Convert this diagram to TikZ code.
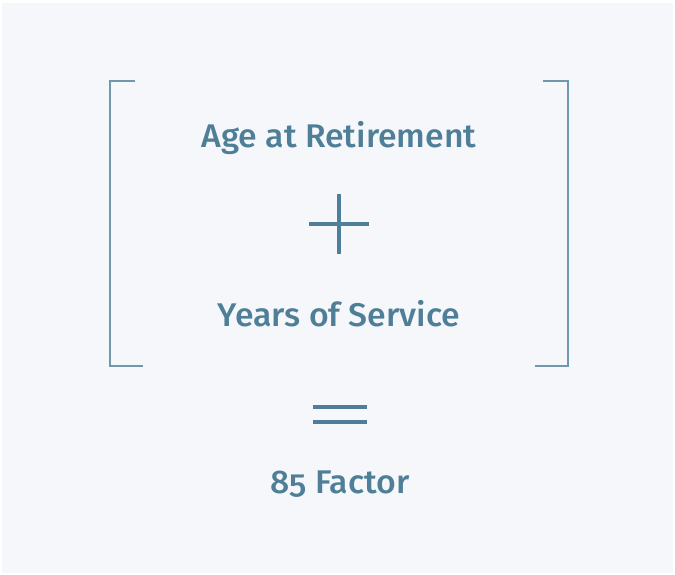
\documentclass[tikz,border=0pt]{standalone}
\usepackage{fontspec}
\setmainfont{Fira Sans}[UprightFont=* Medium,Numbers=OldStyle,FakeStretch=1.03]
\definecolor{txtblue}{HTML}{4F7F98}
\definecolor{lineblue}{HTML}{6F97AE}
\definecolor{bgpanel}{HTML}{F5F7FA}
\begin{document}
\begin{tikzpicture}[x=0.75pt,y=-0.75pt,
  label/.style={text=txtblue,font=\fontsize{24.6}{29}\selectfont,inner sep=0pt,anchor=base},
  bracket/.style={draw=lineblue,line width=1pt},
  sym/.style={draw=txtblue,line width=3.3pt}]
\useasboundingbox (0,0) rectangle (675,575);
\fill[white] (0,0) rectangle (675,575);
\fill[bgpanel] (2,3) rectangle (673,573);
% brackets
\draw[bracket] (135,81) -- (110,81) -- (110,366) -- (143,366);
\draw[bracket] (543,81) -- (568,81) -- (568,366) -- (535,366);
% texts
\node[label] (age) at (339,147) {Age at Retirement};
\node[label] (yrs) at (339,326) {Years of Service};
\node[label] (fac) at (340,493) {85 Factor};
% plus
\coordinate (pt) at (339,194); \coordinate (pb) at (339,254);
\coordinate (pl) at (309,224); \coordinate (pr) at (369,224);
\draw[sym] (pt) -- (pb);
\draw[sym] (pl) -- (pr);
% equals
\coordinate (e1l) at (313,407); \coordinate (e1r) at (367,407);
\coordinate (e2l) at (313,422); \coordinate (e2r) at (367,422);
\draw[sym] (e1l) -- (e1r);
\draw[sym] (e2l) -- (e2r);
\end{tikzpicture}
\end{document}
